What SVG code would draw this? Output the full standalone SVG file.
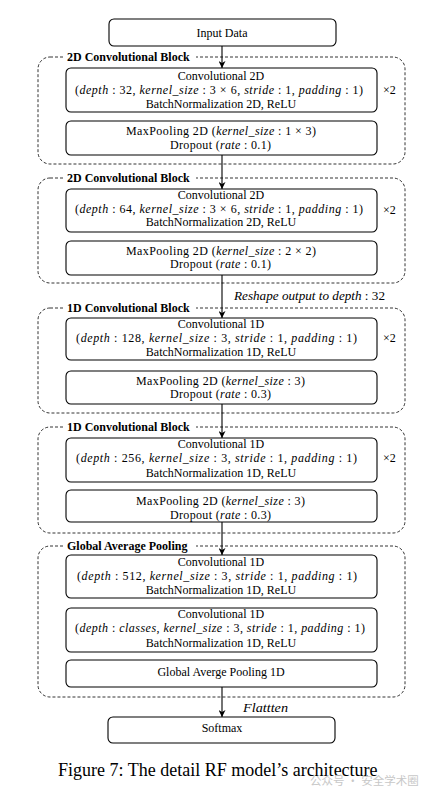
<svg xmlns="http://www.w3.org/2000/svg" width="434" height="795" viewBox="0 0 434 795">
<defs>
<marker id="ah" viewBox="0 0 10 10" refX="10" refY="5" markerWidth="7" markerHeight="7" orient="auto" markerUnits="userSpaceOnUse">
<path d="M0,0 L10,5 L0,10 L3,5 Z" fill="#000"/>
</marker>
<style>
text{font-family:"Liberation Serif","Times New Roman",serif;font-size:12px;fill:#000}
.c{text-anchor:middle}
.i{font-style:italic}
.b{font-weight:bold}
.box{fill:#fff;stroke:#000;stroke-width:1.1}
.blk{fill:none;stroke:#000;stroke-width:0.8;stroke-dasharray:3 2}
.lbg{fill:#fff}
.ar{stroke:#000;stroke-width:1.1;fill:none;marker-end:url(#ah)}
.cap{font-size:18px}
.wm{font-family:"Noto Sans CJK SC","Liberation Sans",sans-serif;font-size:11.5px;fill:#c8c8c8}
</style>
</defs>
<rect width="434" height="795" fill="#fff"/>

<g id="blocks">
<rect class="blk" x="38" y="57" width="367" height="107" rx="12"/>
<rect class="lbg" x="63" y="52" width="133" height="11"/>
<text class="b" x="67" y="61">2D Convolutional Block</text>
<rect class="blk" x="38" y="178" width="367" height="105" rx="12"/>
<rect class="lbg" x="63" y="173" width="133" height="11"/>
<text class="b" x="67" y="182">2D Convolutional Block</text>
<rect class="blk" x="38" y="308" width="367" height="105" rx="12"/>
<rect class="lbg" x="63" y="303" width="133" height="11"/>
<text class="b" x="67" y="312">1D Convolutional Block</text>
<rect class="blk" x="38" y="427" width="367" height="106" rx="12"/>
<rect class="lbg" x="63" y="422" width="133" height="11"/>
<text class="b" x="67" y="431">1D Convolutional Block</text>
<rect class="blk" x="38" y="546" width="367" height="151" rx="12"/>
<rect class="lbg" x="63" y="541" width="133" height="11"/>
<text class="b" x="67" y="550">Global Average Pooling</text>
</g>

<g id="connectors">
<line class="ar" x1="222" y1="46" x2="222" y2="68"/>
<line class="ar" x1="222" y1="155" x2="222" y2="189"/>
<line class="ar" x1="222" y1="275" x2="222" y2="318"/>
<line class="ar" x1="222" y1="404" x2="222" y2="438"/>
<line class="ar" x1="222" y1="522" x2="222" y2="555"/>
<line class="ar" x1="222" y1="687" x2="222" y2="717"/>
<text class="i" x="234" y="300" textLength="151" lengthAdjust="spacingAndGlyphs">Reshape output to depth <tspan font-style="normal">: 32</tspan></text>
<text class="i" x="243" y="712" textLength="45" lengthAdjust="spacingAndGlyphs">Flattten</text>
</g>

<g id="input">
<rect class="box" x="109" y="19" width="227" height="27" rx="5"/>
<text class="c" x="222" y="37">Input Data</text>
</g>

<g id="conv2d_1">
<rect class="box" x="66" y="68" width="311" height="44" rx="5"/>
<text class="c" x="221" y="80">Convolutional 2D</text>
<text x="75" y="94" textLength="288" lengthAdjust="spacing">(<tspan class="i">depth</tspan> : 32, <tspan class="i">kernel_size</tspan> : 3 × 6, <tspan class="i">stride</tspan> : 1, <tspan class="i">padding</tspan> : 1)</text>
<text class="c" x="221" y="108">BatchNormalization 2D, ReLU</text>
<text x="383" y="94">×2</text>
</g>
<g id="pool2d_1">
<rect class="box" x="66" y="121" width="311" height="34" rx="5"/>
<text x="126" y="135" textLength="190" lengthAdjust="spacing">MaxPooling 2D (<tspan class="i">kernel_size</tspan> : 1 × 3)</text>
<text x="170" y="149" textLength="101" lengthAdjust="spacing">Dropout (<tspan class="i">rate</tspan> : 0.1)</text>
</g>

<g id="conv2d_2">
<rect class="box" x="66" y="189" width="311" height="43" rx="5"/>
<text class="c" x="221" y="199">Convolutional 2D</text>
<text x="75" y="213" textLength="288" lengthAdjust="spacing">(<tspan class="i">depth</tspan> : 64, <tspan class="i">kernel_size</tspan> : 3 × 6, <tspan class="i">stride</tspan> : 1, <tspan class="i">padding</tspan> : 1)</text>
<text class="c" x="221" y="226">BatchNormalization 2D, ReLU</text>
<text x="383" y="214">×2</text>
</g>
<g id="pool2d_2">
<rect class="box" x="66" y="241" width="311" height="34" rx="5"/>
<text x="126" y="255" textLength="190" lengthAdjust="spacing">MaxPooling 2D (<tspan class="i">kernel_size</tspan> : 2 × 2)</text>
<text x="170" y="268" textLength="101" lengthAdjust="spacing">Dropout (<tspan class="i">rate</tspan> : 0.1)</text>
</g>

<g id="conv1d_1">
<rect class="box" x="66" y="318" width="311" height="42" rx="5"/>
<text class="c" x="221" y="328">Convolutional 1D</text>
<text x="76" y="342" textLength="281" lengthAdjust="spacing">(<tspan class="i">depth</tspan> : 128, <tspan class="i">kernel_size</tspan> : 3, <tspan class="i">stride</tspan> : 1, <tspan class="i">padding</tspan> : 1)</text>
<text class="c" x="221" y="356">BatchNormalization 1D, ReLU</text>
<text x="383" y="342">×2</text>
</g>
<g id="pool1d_1">
<rect class="box" x="66" y="371" width="311" height="33" rx="5"/>
<text x="136" y="385" textLength="169" lengthAdjust="spacing">MaxPooling 2D (<tspan class="i">kernel_size</tspan> : 3)</text>
<text x="170" y="398" textLength="101" lengthAdjust="spacing">Dropout (<tspan class="i">rate</tspan> : 0.3)</text>
</g>

<g id="conv1d_2">
<rect class="box" x="66" y="438" width="311" height="44" rx="5"/>
<text class="c" x="221" y="448">Convolutional 1D</text>
<text x="76" y="462" textLength="281" lengthAdjust="spacing">(<tspan class="i">depth</tspan> : 256, <tspan class="i">kernel_size</tspan> : 3, <tspan class="i">stride</tspan> : 1, <tspan class="i">padding</tspan> : 1)</text>
<text class="c" x="221" y="477">BatchNormalization 1D, ReLU</text>
<text x="383" y="462">×2</text>
</g>
<g id="pool1d_2">
<rect class="box" x="66" y="490" width="311" height="32" rx="5"/>
<text x="136" y="505" textLength="169" lengthAdjust="spacing">MaxPooling 2D (<tspan class="i">kernel_size</tspan> : 3)</text>
<text x="170" y="519" textLength="101" lengthAdjust="spacing">Dropout (<tspan class="i">rate</tspan> : 0.3)</text>
</g>

<g id="conv1d_3">
<rect class="box" x="66" y="555" width="311" height="43" rx="5"/>
<text class="c" x="221" y="566">Convolutional 1D</text>
<text x="77" y="580" textLength="280" lengthAdjust="spacing">(<tspan class="i">depth</tspan> : 512, <tspan class="i">kernel_size</tspan> : 3, <tspan class="i">stride</tspan> : 1, <tspan class="i">padding</tspan> : 1)</text>
<text class="c" x="221" y="594">BatchNormalization 1D, ReLU</text>
</g>
<g id="conv1d_4">
<rect class="box" x="66" y="608" width="311" height="44" rx="5"/>
<text class="c" x="221" y="618">Convolutional 1D</text>
<text x="75" y="632" textLength="290" lengthAdjust="spacing">(<tspan class="i">depth</tspan> : <tspan class="i">classes</tspan>, <tspan class="i">kernel_size</tspan> : 3, <tspan class="i">stride</tspan> : 1, <tspan class="i">padding</tspan> : 1)</text>
<text class="c" x="221" y="647">BatchNormalization 1D, ReLU</text>
</g>
<g id="gap1d">
<rect class="box" x="66" y="660" width="311" height="27" rx="5"/>
<text class="c" x="221" y="676">Global Averge Pooling 1D</text>
</g>

<g id="softmax">
<rect class="box" x="108" y="717" width="227" height="26" rx="5"/>
<text class="c" x="222" y="732">Softmax</text>
</g>

<text class="cap" x="58" y="776">Figure 7: The detail RF model’s architecture</text>
<text class="wm" x="310" y="785">公众号 · 安全学术圈</text>
</svg>
